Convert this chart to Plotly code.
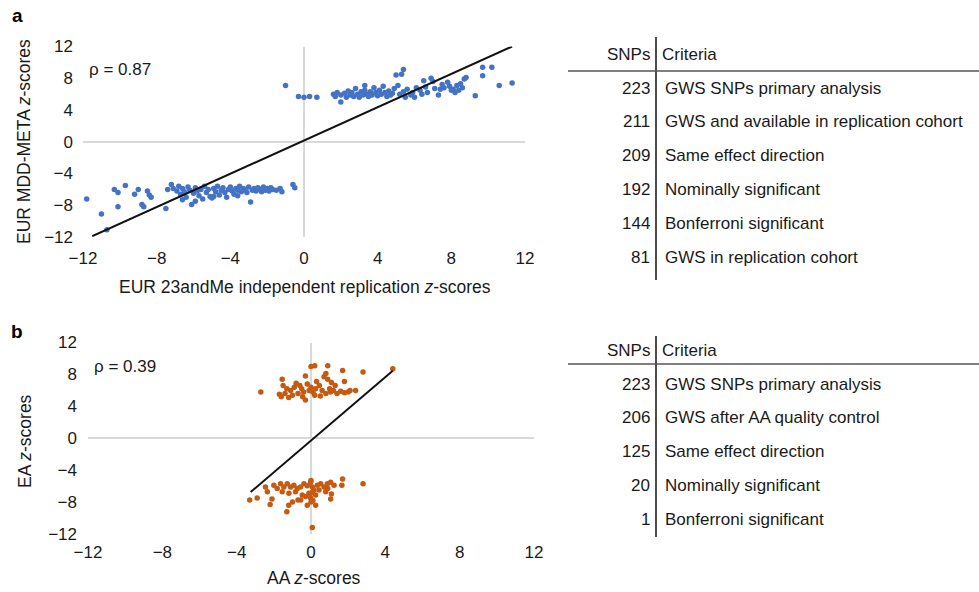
import plotly.graph_objects as go

W, H = 979, 592

# ---------------- data ----------------
ticks = [-12, -8, -4, 0, 4, 8, 12]

# Panel a: EUR 23andMe replication z (x) vs EUR MDD-META z (y)
a_points = [
    (-1.0, 7.1), (-0.3, 5.7), (0.0, 5.6), (0.3, 5.7), (0.7, 5.6),
    (1.6, 6.0), (1.7, 5.7), (1.8, 6.2), (2.0, 5.9), (2.0, 5.0), (2.2, 6.1), (2.3, 5.6),
    (2.4, 6.4), (2.5, 5.9), (2.6, 6.2), (2.7, 5.7), (2.8, 6.7), (2.9, 6.0), (3.0, 5.6),
    (3.1, 6.3), (3.2, 5.9), (3.3, 7.1), (3.3, 6.5), (3.4, 6.0), (3.5, 5.7), (3.6, 6.3),
    (3.7, 5.9), (3.8, 6.8), (3.9, 6.2), (4.0, 5.8), (4.1, 6.5), (4.2, 6.0), (4.3, 7.0),
    (4.4, 6.2), (4.5, 5.7), (4.6, 6.4), (4.7, 5.9), (4.8, 6.1), (4.9, 6.7),
    (5.0, 8.4), (5.3, 8.5), (5.4, 9.1), (5.1, 7.1), (5.2, 6.0), (5.4, 6.3), (5.5, 5.6),
    (5.6, 6.6), (5.8, 5.9), (5.9, 6.2), (6.0, 5.6), (6.1, 6.8), (6.3, 6.5), (6.4, 6.0),
    (6.5, 7.7), (6.6, 6.9), (6.7, 6.2), (6.9, 8.0), (7.0, 7.6), (7.1, 6.7), (7.3, 5.9),
    (7.4, 6.6), (7.5, 7.2), (7.6, 6.8), (7.8, 7.5), (7.9, 7.0), (8.0, 6.5), (8.1, 6.6),
    (8.2, 6.2), (8.3, 7.1), (8.4, 6.5), (8.5, 7.3), (8.6, 6.8), (8.7, 7.9), (8.8, 8.1),
    (9.3, 5.8), (9.7, 9.4), (10.2, 9.4), (9.7, 8.3), (10.6, 7.1), (11.3, 7.4),
    (-11.8, -7.2), (-11.0, -9.1), (-10.7, -11.1), (-10.3, -6.0), (-10.1, -6.4), (-9.7, -5.5),
    (-10.1, -8.2), (-9.2, -6.6), (-9.0, -6.0), (-8.5, -6.2), (-8.4, -6.7), (-8.3, -7.0),
    (-8.8, -7.9), (-8.7, -8.2), (-7.5, -8.4), (-7.4, -6.0), (-7.2, -5.4), (-7.1, -5.9),
    (-6.9, -6.2), (-6.8, -5.6), (-6.7, -6.6), (-6.6, -5.9), (-6.5, -6.3), (-6.4, -7.0),
    (-6.3, -5.7), (-6.2, -6.1), (-6.1, -7.9), (-6.0, -6.5), (-5.9, -5.8), (-5.8, -6.2),
    (-5.7, -6.8), (-5.6, -6.0), (-5.5, -7.2), (-5.4, -5.6), (-5.3, -6.4), (-5.2, -6.0),
    (-5.1, -6.9), (-5.0, -7.1), (-4.9, -5.9), (-4.8, -6.3), (-4.7, -5.6), (-4.6, -6.7),
    (-4.5, -6.1), (-4.4, -5.8), (-4.3, -6.4), (-4.2, -7.0), (-4.1, -6.0), (-4.0, -5.7),
    (-3.9, -6.2), (-3.8, -6.6), (-3.7, -5.9), (-3.6, -6.1), (-3.5, -5.6), (-3.4, -6.3),
    (-3.3, -5.9), (-3.2, -6.0), (-3.1, -6.4), (-3.0, -5.7), (-2.9, -7.6), (-2.8, -6.1),
    (-2.7, -5.9), (-2.6, -6.2), (-2.5, -5.8), (-2.4, -6.0), (-2.3, -6.3), (-2.2, -5.7),
    (-2.1, -6.1), (-2.0, -5.9), (-1.9, -6.2), (-1.8, -5.8), (-1.7, -6.0), (-1.5, -6.1),
    (-1.3, -5.9), (-1.2, -6.3), (-0.6, -5.4), (-0.5, -5.8),
    (-6.6, -7.3), (-5.9, -7.5), (-4.9, -6.9), (-3.6, -6.8),
]
a_fit_x = [-11.5, 11.3]
a_fit_y = [-11.9, 12.0]

# Panel b: AA z (x) vs EA z (y)
b_points = [
    (-2.7, 5.8), (0.0, 9.0), (0.2, 9.1), (0.9, 9.1), (1.7, 8.5), (2.8, 8.3), (4.4, 8.7),
    (-1.55, 7.4), (-0.3, 7.8), (0.7, 7.7), (0.9, 7.4), (1.8, 7.1), (0.8, 8.1),
    (-1.5, 6.6), (-1.3, 6.2), (-1.7, 5.5), (-1.6, 5.2), (-1.4, 5.6), (-1.1, 6.0),
    (-0.9, 6.4), (-0.7, 5.6), (-0.5, 6.2), (-0.4, 5.8), (-0.45, 5.2), (-0.3, 4.8),
    (-0.2, 6.8), (0.0, 6.4), (0.1, 5.8), (0.25, 6.2), (0.2, 5.4), (-0.1, 6.0),
    (0.45, 6.6), (0.6, 6.0), (0.8, 5.6), (1.0, 6.2), (1.05, 5.8), (1.2, 6.0), (1.4, 5.6),
    (1.6, 5.9), (1.8, 5.7), (2.0, 5.8), (2.1, 6.0), (2.4, 6.0), (1.1, 7.0), (1.3, 6.6),
    (-1.0, 5.4), (-0.8, 6.9), (-0.6, 6.6), (0.3, 7.1), (0.5, 5.3), (-1.2, 5.1),
    (-3.3, -7.75), (-2.9, -7.5), (-2.45, -6.1), (-2.35, -6.7), (-2.1, -7.6), (-2.2, -8.3),
    (-1.3, -9.2), (-1.2, -8.4), (-1.0, -8.0), (-0.7, -7.75), (-0.55, -7.75), (0.07, -11.2),
    (-0.2, -8.4), (0.25, -8.4), (1.06, -7.6), (1.7, -5.1), (1.66, -5.9), (2.8, -5.7),
    (1.1, -7.0), (0.9, -6.3),
    (-2.0, -5.9), (-1.82, -6.3), (-1.64, -5.7), (-1.46, -6.1), (-1.28, -5.7), (-1.1, -6.1),
    (-0.92, -5.9), (-0.74, -6.3), (-0.56, -6.1), (-0.38, -5.7), (-0.2, -5.95), (-0.02, -5.5),
    (0.07, -6.1), (0.16, -6.5), (0.34, -5.9), (0.52, -5.7), (0.7, -6.1), (0.88, -5.7),
    (1.06, -5.5), (1.24, -5.9), (-1.55, -6.7), (-1.19, -6.9), (-0.83, -6.7), (-0.47, -7.1),
    (-0.11, -6.9), (0.25, -7.1), (0.43, -6.5), (0.79, -6.7), (-0.02, -7.5), (-0.29, -7.3),
    (0.0, -5.3), (0.05, -6.8), (-0.05, -7.0), (0.1, -7.8), (0.0, -8.0),
]
b_fit_x = [-3.25, 4.4]
b_fit_y = [-6.75, 8.45]

snps_a = [223, 211, 209, 192, 144, 81]
criteria_a = ["GWS SNPs primary analysis", "GWS and available in replication cohort",
              "Same effect direction", "Nominally significant", "Bonferroni significant",
              "GWS in replication cohort"]
snps_b = [223, 206, 125, 20, 1]
criteria_b = ["GWS SNPs primary analysis", "GWS after AA quality control",
              "Same effect direction", "Nominally significant", "Bonferroni significant"]

BLUE = "#4472C4"
ORANGE = "#C55A11"
FONT = "Liberation Sans, Arial, Helvetica, sans-serif"
TXT = "#1a1a1a"
FS = 17


def px(x):
    return x / W


def py(y):
    return 1 - y / H


fig = go.Figure()

fig.add_trace(go.Scatter(x=[p[0] for p in a_points], y=[p[1] for p in a_points],
                         mode="markers", marker=dict(color=BLUE, size=5.5),
                         xaxis="x", yaxis="y", showlegend=False))
fig.add_trace(go.Scatter(x=a_fit_x, y=a_fit_y, mode="lines",
                         line=dict(color="#111111", width=2),
                         xaxis="x", yaxis="y", showlegend=False))
fig.add_trace(go.Scatter(x=[p[0] for p in b_points], y=[p[1] for p in b_points],
                         mode="markers", marker=dict(color=ORANGE, size=5.5),
                         xaxis="x2", yaxis="y2", showlegend=False))
fig.add_trace(go.Scatter(x=b_fit_x, y=b_fit_y, mode="lines",
                         line=dict(color="#111111", width=2),
                         xaxis="x2", yaxis="y2", showlegend=False))

axis_common = dict(range=[-12, 12], tickmode="array", tickvals=ticks,
                   showgrid=False, zeroline=True, zerolinecolor="#D9D9D9",
                   zerolinewidth=2, showline=False, ticks="", automargin=False,
                   tickfont=dict(family=FONT, size=FS, color=TXT), fixedrange=True)

fig.update_layout(
    template="none",
    width=W, height=H,
    margin=dict(l=0, r=0, t=0, b=0, pad=0, autoexpand=False),
    paper_bgcolor="white", plot_bgcolor="white",
    font=dict(family=FONT, size=FS, color=TXT),
    xaxis=dict(axis_common, domain=[px(83), px(525)], anchor="y", ticklabelstandoff=9),
    yaxis=dict(axis_common, domain=[py(237), py(46.5)], anchor="x", ticklabelstandoff=9),
    xaxis2=dict(axis_common, domain=[px(88), px(534)], anchor="y2", ticklabelstandoff=6),
    yaxis2=dict(axis_common, domain=[py(534), py(342.5)], anchor="x2", ticklabelstandoff=10),
)

ann = []


def text(x, y, t, size=FS, xanchor="center", angle=0, bold=False):
    ann.append(dict(x=px(x), y=py(y), xref="paper", yref="paper", text=("<b>%s</b>" % t) if bold else t,
                    showarrow=False, xanchor=xanchor, yanchor="middle", textangle=angle,
                    font=dict(family=FONT, size=size, color="#000000" if bold else TXT)))


text(17, 16, "a", size=19, bold=True)
text(17, 331, "b", size=19, bold=True)
text(87, 69, "ρ = 0.87", xanchor="left")
text(92, 366, "ρ = 0.39", xanchor="left")
text(24, 142, "EUR MDD-META <i>z</i>-scores", size=17.5, angle=-90)
text(305, 287, "EUR 23andMe independent replication <i>z</i>-scores", size=17.5)
text(25, 441, "EA <i>z</i>-scores", size=17.5, angle=-90)
text(314, 578, "AA <i>z</i>-scores", size=17.5)

shapes = []


def line(x0, y0, x1, y1, color="#222222", width=1.5):
    shapes.append(dict(type="line", xref="paper", yref="paper", x0=px(x0), y0=py(y0),
                       x1=px(x1), y1=py(y1), line=dict(color=color, width=width)))


def table(top, snps, crit, row_y0):
    text(652, top, "SNPs", xanchor="right")
    text(660, top, "Criteria", xanchor="left")
    for i, (n, c) in enumerate(zip(snps, crit)):
        yy = row_y0 + i * 33.8
        text(652, yy, str(n), xanchor="right")
        text(663, yy, c, xanchor="left")


table(55, snps_a, criteria_a, 88)
table(350, snps_b, criteria_b, 384)
line(656, 37, 656, 280, color="#111111")
line(568, 71, 979, 71, color="#555555")
line(656, 336, 656, 537, color="#111111")
line(568, 364, 979, 364, color="#555555")

fig.update_layout(annotations=ann, shapes=shapes)
fig.write_html("out.html")
